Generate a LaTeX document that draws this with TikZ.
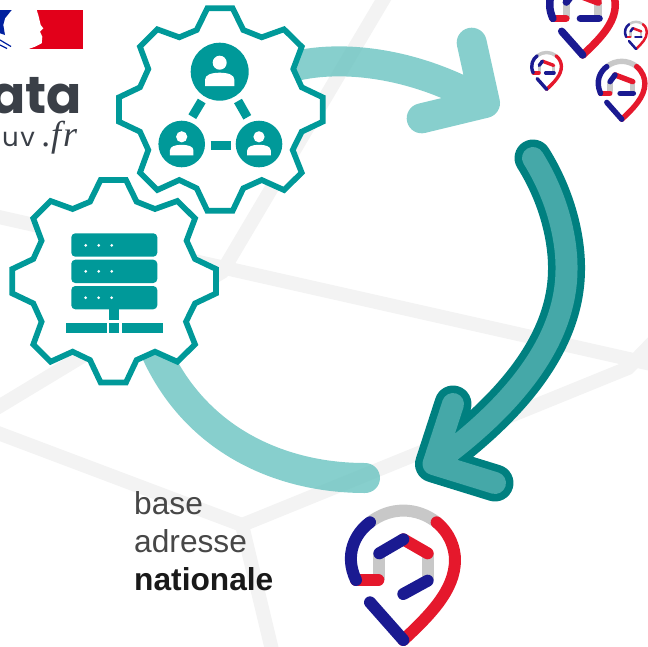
\documentclass[tikz,border=0pt]{standalone}
\usepackage{fontspec}
\setmainfont{Liberation Sans}
\newfontfamily\popfont{Poppins}
\newfontfamily\serifit{Liberation Serif}
\definecolor{bgline}{HTML}{F3F3F3}
\definecolor{gearteal}{HTML}{009999}
\definecolor{lightteal}{HTML}{69C3C0}
\definecolor{darkline}{HTML}{008080}
\definecolor{darkfill}{HTML}{45A8A8}
\definecolor{pinblue}{HTML}{1A1A91}
\definecolor{pinred}{HTML}{E5182C}
\definecolor{pingray}{HTML}{C8C8C8}
\definecolor{logodark}{HTML}{3A3F47}
\definecolor{frblue}{HTML}{00209F}
\definecolor{frred}{HTML}{E2001A}
\tikzset{
  bgstroke/.style={draw=bgline,line width=14pt,line join=miter},
  lightarrow/.style={draw=lightteal,draw opacity=.8,line width=30pt,line cap=round,line join=round},
  gearline/.style={draw=gearteal,fill=white,line width=5.7pt,line join=miter},
  tealfill/.style={fill=gearteal,draw=none},
  tealbar/.style={draw=gearteal,line width=9pt},
  whitefill/.style={fill=white,draw=none},
  rack/.style={fill=gearteal,draw=none,rounded corners=4pt},
  pinstroke/.style={line cap=round,line join=round},
  pintext/.style={anchor=base west,inner sep=0pt,font=\fontsize{31.7}{38}\selectfont},
}
\newcommand{\gearshape}[2]{%
  \draw[gearline,shift={(#1,#2)}]
   (207.3,8.3)--(232.7,8.3)--(243.3,30)--(261.7,37.3)--(284,29.3)--(301.7,46.7)--(293.3,69)--(301.7,87.3)--(322.7,97.3)--(322.7,121.7)--(301.7,131.7)--(292.7,150)--(301.7,172.7)--(284,190)--(261.7,180)--(243.3,188.3)--(232.7,210.7)--(207.3,210.7)--(196.7,188.3)--(179.3,180)--(157.3,190)--(140,172.7)--(148.3,150)--(140,131.7)--(119,121.7)--(119,97.3)--(140,87.3)--(148.3,69)--(140,46.7)--(157.3,29.3)--(179.3,37.3)--(196.7,30)--cycle;}
\newcommand{\person}[4]{%
  \fill[tealfill] (#1,#2) circle[radius=#3];
  \begin{scope}[shift={(#1,#2)},scale=#4]
    \fill[whitefill] (0,-9) circle[radius=7];
    \fill[whitefill] (-14.7,14.3) -- (-14.7,8) .. controls (-14.7,3) and (-8,1) .. (0,1) .. controls (8,1) and (14.7,3) .. (14.7,8) -- (14.7,14.3) -- cycle;
  \end{scope}}
\newcommand{\mainpin}[4]{%
  \begin{scope}[shift={(#1,#2)},scale=#3,pinstroke,line width=#4]
    \draw[pingray] (150,97) .. controls (210,50) and (290,50) .. (350,97);
    \draw[pingray,line cap=butt] (177,188)--(177,270) (325,188)--(325,270);
    \draw[pinred] (108,270)--(175,270);
    \draw[pinblue] (150,97) .. controls (105,130) and (72,195) .. (108,270);
    \draw[pinred] (350,97) .. controls (390,130) and (405,175) .. (405,210) .. controls (405,300) and (330,375) .. (250,450);
    \draw[pinblue] (150,337)--(250,450);
    \draw[pinred] (250,148)--(323,190);
    \draw[pinblue] (178,190)--(250,148);
    \draw[pinblue] (323,272)--(250,312);
  \end{scope}}
\newcommand{\smallpin}[4]{%
  \begin{scope}[shift={(#1,#2)},scale=#3,pinstroke,line width=#4]
    \draw[pingray] (150,97) .. controls (210,50) and (290,50) .. (350,97);
    \draw[pingray,line cap=butt] (172,198)--(172,276) (324,198)--(324,276);
    \draw[pinred] (108,276)--(170,276);
    \draw[pinblue] (150,97) .. controls (105,130) and (72,195) .. (108,276);
    \draw[pinred] (350,97) .. controls (390,130) and (405,175) .. (405,210) .. controls (405,300) and (330,375) .. (250,450);
    \draw[pinblue] (150,337)--(250,450);
    \draw[pinred] (205,153)--(324,198);
    \draw[pinblue] (172,198)--(205,153);
    \draw[pinblue] (239,276)--(328,276);
  \end{scope}}
\begin{document}
\begin{tikzpicture}[x=1pt,y=-1pt]
\useasboundingbox (0,0) rectangle (648,646);
\draw[bgstroke] (-10,215) -- (660,366);
\draw[bgstroke] (386,-5) -- (222,272) -- (-10,412);
\draw[bgstroke] (-10,430) -- (242,525) -- (272,650);
\draw[bgstroke] (242,525) -- (628,368) -- (660,335);
\draw[lightarrow] (300,65) .. controls (350,55) and (420,65) .. (485,103) (471.7,42.7) -- (485,103) -- (421.7,118.3);
\draw[lightarrow] (155,350) .. controls (195,440) and (280,478) .. (365,478);
\begin{scope}[line cap=round,line join=round]
  \draw[darkline,line width=37pt] (533,158) .. controls (558,198) and (567,240) .. (566.5,270) .. controls (566,340) and (515,405) .. (433.5,464) (453,404) -- (433.5,464) -- (495,483);
  \draw[darkfill,line width=22pt] (533,158) .. controls (558,198) and (567,240) .. (566.5,270) .. controls (566,340) and (515,405) .. (433.5,464) (453,404) -- (433.5,464) -- (495,483);
\end{scope}
\gearshape{0}{0}
\gearshape{-106.7}{171.7}
\person{219.7}{71.7}{29}{1}
\person{181.7}{144}{23.3}{.8}
\person{259}{144}{23.3}{.8}
\draw[tealbar] (201.7,101) -- (192.3,116.7);
\draw[tealbar] (238,101) -- (247.3,117.3);
\draw[tealbar] (210.7,145) -- (230.7,145);
\fill[rack] (71.3,233.3) rectangle (157.3,256.7);
\fill[rack] (71.3,259.7) rectangle (157.3,283);
\fill[rack] (71.3,286) rectangle (157.3,309.3);
\foreach \yy in {245.3,271.3,297.7}{\foreach \xx in {85.7,98.7,111.7}{\fill[whitefill] (\xx,\yy) circle[radius=1.5];}}
\fill[tealfill] (109.3,309) rectangle (119.3,320);
\fill[tealfill] (66,322.7) rectangle (106.7,333.3);
\fill[tealfill] (109.3,322.7) rectangle (119.3,333.3);
\fill[tealfill] (122.3,322.7) rectangle (163.3,333.3);
\mainpin{320}{490}{.3333}{12pt}
\smallpin{530.2}{-39.5}{.21}{7.5pt}
\smallpin{584.4}{52.1}{.1493}{5.4pt}
\smallpin{522.9}{46.6}{.095}{3.4pt}
\smallpin{618.5}{17.5}{.07}{2.5pt}
\fill[frred] (27,10) rectangle (82.7,49.3);
\fill[white] (36.7,10) -- (38.3,15) -- (40.7,25) -- (43.3,28.3) -- (40,31.7) -- (42.3,36.7) -- (41.7,43.3) -- (35,46.7) -- (27.7,49.3) -- (15,49.5) -- (15,10) -- cycle;
\fill[frblue] (0,10) -- (11.7,10) -- (5,18.3) -- (3.3,25) -- (5,35) -- (0,33.3) -- cycle;
\draw[frblue,line width=1.2pt] (0,40) -- (11,46.5) (0,45) -- (7,48.5);
\node[anchor=base east,inner sep=0pt,text=logodark] (datatext) at (82,113) {\popfont\bfseries\fontsize{52}{52}\selectfont ata};
\node[anchor=base west,inner sep=0pt,text=logodark] (gouvtext) at (2,146) {\popfont\fontsize{26}{26}\selectfont\addfontfeature{LetterSpace=6}uv};
\node[anchor=base west,inner sep=0pt,text=logodark] (frtext) at (42,146) {\serifit\itshape\fontsize{36}{36}\selectfont .f\kern2pt r};
\node[pintext,text=black!72] (baselabel) at (134,514) {base};
\node[pintext,text=black!72] (adresselabel) at (134,552) {adresse};
\node[pintext,text=black!90,font=\fontsize{31.7}{38}\selectfont\bfseries] (nationalelabel) at (134,590) {nationale};
\end{tikzpicture}
\end{document}
